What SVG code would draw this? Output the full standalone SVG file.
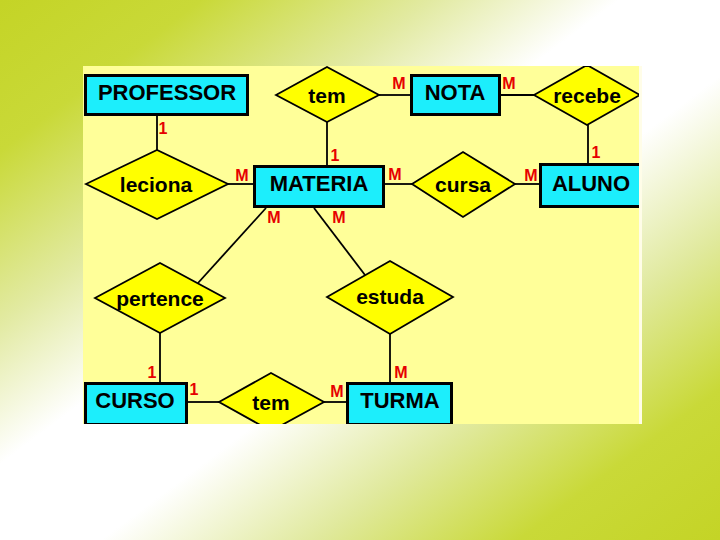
<svg xmlns="http://www.w3.org/2000/svg" width="720" height="540" viewBox="0 0 720 540">
<style>
.ent{fill:#1CEEFC;stroke:#000;stroke-width:3}
.rel{fill:#FFFF00;stroke:#000;stroke-width:1.8;stroke-linejoin:miter}
.et{font-family:"Liberation Sans",Arial,sans-serif;font-weight:bold;font-size:22px;fill:#000;text-anchor:middle;dominant-baseline:central}
.rt{font-family:"Liberation Sans",Arial,sans-serif;font-weight:bold;font-size:21px;fill:#000;text-anchor:middle;dominant-baseline:central}
.card{font-family:"Liberation Sans",Arial,sans-serif;font-weight:bold;font-size:16px;fill:#E60000;text-anchor:middle;dominant-baseline:central}
.ln{stroke:#000;stroke-width:1.8;fill:none}
</style>
<defs>
<linearGradient id="bg" x1="0" y1="0" x2="1" y2="1">
<stop offset="0" stop-color="#C4D426"/>
<stop offset="0.14" stop-color="#C9D938"/>
<stop offset="0.30" stop-color="#E2EAA2"/>
<stop offset="0.43" stop-color="#FFFFFF"/>
<stop offset="0.57" stop-color="#FFFFFF"/>
<stop offset="0.72" stop-color="#E0E99C"/>
<stop offset="0.86" stop-color="#C9D938"/>
<stop offset="1" stop-color="#C4D426"/>
</linearGradient>
<clipPath id="panelClip"><rect x="83" y="66" width="556" height="358"/></clipPath>
</defs>
<rect x="0" y="0" width="720" height="540" fill="url(#bg)"/>
<rect x="83" y="66" width="559" height="358" fill="#FFFDE8"/>
<rect x="83" y="66" width="556" height="358" fill="#FFFF99"/>
<g clip-path="url(#panelClip)">
<g id="connectors">
<line class="ln" x1="157" y1="115" x2="157" y2="150"/>
<line class="ln" x1="228" y1="184" x2="254" y2="184"/>
<line class="ln" x1="327" y1="122" x2="327" y2="165"/>
<line class="ln" x1="379" y1="95" x2="411" y2="95"/>
<line class="ln" x1="500" y1="95" x2="534" y2="95"/>
<line class="ln" x1="588" y1="125" x2="588" y2="163"/>
<line class="ln" x1="384" y1="184" x2="412" y2="184"/>
<line class="ln" x1="515" y1="184" x2="540" y2="184"/>
<line class="ln" x1="266" y1="208" x2="198" y2="283"/>
<line class="ln" x1="314" y1="208" x2="365" y2="275"/>
<line class="ln" x1="160" y1="333" x2="160" y2="383"/>
<line class="ln" x1="390" y1="334" x2="390" y2="383"/>
<line class="ln" x1="187" y1="402" x2="219" y2="402"/>
<line class="ln" x1="324" y1="402" x2="347" y2="402"/>
<text class="card" x="163" y="128">1</text>
<text class="card" x="242" y="175">M</text>
<text class="card" x="335" y="155">1</text>
<text class="card" x="399" y="83">M</text>
<text class="card" x="509" y="83">M</text>
<text class="card" x="596" y="152">1</text>
<text class="card" x="395" y="174">M</text>
<text class="card" x="531" y="175">M</text>
<text class="card" x="274" y="217">M</text>
<text class="card" x="339" y="217">M</text>
<text class="card" x="152" y="372">1</text>
<text class="card" x="401" y="372">M</text>
<text class="card" x="194" y="389">1</text>
<text class="card" x="337" y="391">M</text>
</g>
<g id="professor"><rect class="ent" x="85.5" y="75.5" width="162" height="39"/><text class="et" x="167" y="92">PROFESSOR</text></g>
<g id="nota"><rect class="ent" x="411.5" y="75.5" width="88" height="39"/><text class="et" x="455" y="92">NOTA</text></g>
<g id="materia"><rect class="ent" x="254.5" y="166.5" width="129" height="40"/><text class="et" x="319" y="183">MATERIA</text></g>
<g id="aluno"><rect class="ent" x="540.5" y="164.5" width="110" height="42"/><text class="et" x="591" y="183">ALUNO</text></g>
<g id="curso"><rect class="ent" x="85.5" y="383.5" width="101" height="41"/><text class="et" x="135" y="400">CURSO</text></g>
<g id="turma"><rect class="ent" x="347.5" y="383.5" width="104" height="41"/><text class="et" x="400" y="400">TURMA</text></g>
<g id="tem-top"><polygon class="rel" points="276,95 327,67 379,95 327,122"/><text class="rt" x="327" y="95">tem</text></g>
<g id="recebe"><polygon class="rel" points="534,95 587,65 640,95 587,125"/><text class="rt" x="587" y="95">recebe</text></g>
<g id="leciona"><polygon class="rel" points="86,184 157,150 228,184 157,219"/><text class="rt" x="156" y="184">leciona</text></g>
<g id="cursa"><polygon class="rel" points="412,184 463,152 515,184 463,217"/><text class="rt" x="463" y="184">cursa</text></g>
<g id="pertence"><polygon class="rel" points="95,298 160,263 225,298 160,333"/><text class="rt" x="160" y="298">pertence</text></g>
<g id="estuda"><polygon class="rel" points="327,297 390,261 453,297 390,334"/><text class="rt" x="390" y="296">estuda</text></g>
<g id="tem-bottom"><polygon class="rel" points="219,402 271,373 324,402 271,431"/><text class="rt" x="271" y="402">tem</text></g>
</g>
</svg>
